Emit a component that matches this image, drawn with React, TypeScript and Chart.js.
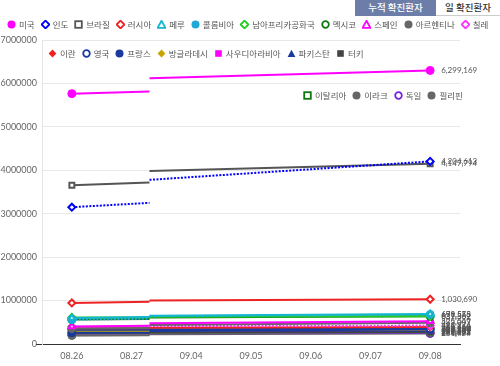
import React, { useEffect, useRef } from 'react';
import { Chart, registerables } from 'chart.js';
Chart.register(...registerables);

// ---- data ----
const dateLabels = ['08.26', '08.27', '09.04', '09.05', '09.06', '09.07', '09.08'];
const breakPos = 1.3; // where the series break between 08.27 and 09.04
const countries = ['미국', '인도', '브라질', '러시아', '페루', '콜롬비아', '남아프리카공화국', '멕시코', '스페인', '아르헨티나', '칠레',
  '이란', '영국', '프랑스', '방글라데시', '사우디아라비아', '파키스탄', '터키', '이탈리아', '이라크', '독일', '필리핀'];
const valuesStart = [5765000, 3150000, 3655000, 945000, 600000, 562000, 611000, 563000, 405000, 359000, 399000,
  361000, 327000, 259000, 300000, 310000, 293000, 260000, 261000, 204000, 237000, 197000];
const valuesBeforeBreak = [5815000, 3250000, 3720000, 975000, 621000, 582000, 616000, 574000, 420000, 370000, 402000,
  364000, 329000, 267000, 302000, 311000, 294000, 263000, 263000, 209000, 239000, 202000];
const valuesAfterBreak = [6120000, 3780000, 3985000, 1000000, 650000, 640000, 628000, 610000, 480000, 440000, 414000,
  376000, 340000, 300000, 315000, 318000, 297000, 272000, 272000, 245000, 248000, 225000];
const valuesEnd = [6299169, 4204613, 4147794, 1030690, 691575, 679513, 639362, 637509, 525549, 488007, 424274,
  388810, 350100, 335524, 327359, 322237, 299659, 281509, 280153, 271153, 254474, 241987];

// ---- styles ----
type Sty = { color: string; shape: string; filled: boolean; dash?: boolean };
const seriesStyles: Sty[] = [
  { color: '#ff00ff', shape: 'circle', filled: true },
  { color: '#0000ff', shape: 'rectRot', filled: false, dash: true },
  { color: '#555555', shape: 'rect', filled: false },
  { color: '#ee2222', shape: 'rectRot', filled: false },
  { color: '#12b6cf', shape: 'triangle', filled: false },
  { color: '#1ea8d8', shape: 'circle', filled: true, dash: true },
  { color: '#22cc22', shape: 'rectRot', filled: false },
  { color: '#117711', shape: 'circle', filled: false },
  { color: '#ff00ff', shape: 'triangle', filled: false },
  { color: '#666666', shape: 'circle', filled: true },
  { color: '#ff33ff', shape: 'rectRot', filled: false, dash: true },
  { color: '#ee2222', shape: 'rectRot', filled: true },
  { color: '#1a3a9e', shape: 'circle', filled: false },
  { color: '#1a3a9e', shape: 'circle', filled: true },
  { color: '#c9a400', shape: 'rectRot', filled: true },
  { color: '#ff00ff', shape: 'rect', filled: true },
  { color: '#1a3a9e', shape: 'triangle', filled: true, dash: true },
  { color: '#444444', shape: 'rect', filled: true },
  { color: '#117711', shape: 'rect', filled: false },
  { color: '#666666', shape: 'circle', filled: true },
  { color: '#7722dd', shape: 'circle', filled: false },
  { color: '#666666', shape: 'circle', filled: true },
];

const legendRows = [
  { left: 7, top: 24, items: [0, 1, 2, 3, 4, 5, 6, 7, 8, 9, 10] },
  { left: 48, top: 53, items: [11, 12, 13, 14, 15, 16, 17] },
  { left: 303, top: 95, items: [18, 19, 20, 21] },
];

function Marker({ s }: { s: Sty }) {
  const fill = s.filled ? s.color : '#fff';
  const sw = s.filled ? 0 : 1.8;
  let el: React.ReactNode;
  if (s.shape === 'circle') el = <circle cx={4.5} cy={4.5} r={s.filled ? 4 : 3.3} fill={fill} stroke={s.color} strokeWidth={sw} />;
  else if (s.shape === 'rect') el = <rect x={1.2} y={1.2} width={6.6} height={6.6} fill={fill} stroke={s.color} strokeWidth={sw} />;
  else if (s.shape === 'rectRot') el = <polygon points="4.5,0.6 8.4,4.5 4.5,8.4 0.6,4.5" fill={fill} stroke={s.color} strokeWidth={sw} />;
  else el = <polygon points="4.5,0.8 8.4,7.9 0.6,7.9" fill={fill} stroke={s.color} strokeWidth={sw} />;
  return <svg width={9} height={9} style={{ display: 'block', marginRight: 3, flex: 'none' }}>{el}</svg>;
}

export default function App() {
  const ref = useRef<HTMLCanvasElement>(null);
  useEffect(() => {
    document.body.style.margin = '0';
    const datasets = countries.map((name, i) => {
      const s = seriesStyles[i];
      return {
        label: name,
        data: [
          { x: 0, y: valuesStart[i] },
          { x: breakPos, y: valuesBeforeBreak[i] },
          { x: breakPos, y: null },
          { x: breakPos, y: valuesAfterBreak[i] },
          { x: dateLabels.length - 1, y: valuesEnd[i] },
        ],
        borderColor: s.color,
        borderWidth: 2,
        borderDash: s.dash ? [2, 1.5] : [],
        pointStyle: s.shape,
        pointBackgroundColor: s.filled ? s.color : '#ffffff',
        pointBorderColor: s.color,
        pointBorderWidth: s.filled ? 1 : 2,
        pointRadius: (c: any) => (c.dataIndex === 0 || c.dataIndex === 4 ? (s.filled ? 4 : 3.5) : 0),
        tension: 0,
        spanGaps: false,
      };
    });
    const endLabels = {
      id: 'endLabels',
      afterDatasetsDraw(chart: any) {
        const ctx = chart.ctx;
        ctx.save();
        ctx.font = '8px Lato, sans-serif';
        ctx.fillStyle = '#555';
        ctx.textBaseline = 'middle';
        ctx.textAlign = 'left';
        chart.data.datasets.forEach((ds: any, i: number) => {
          const meta = chart.getDatasetMeta(i);
          const pt = meta.data[4];
          if (!pt) return;
          ctx.fillText(valuesEnd[i].toLocaleString('en-US'), pt.x + 11, pt.y);
        });
        const a = chart.chartArea;
        ctx.strokeStyle = '#333';
        ctx.lineWidth = 1;
        ctx.beginPath();
        ctx.moveTo(a.left - 6, Math.round(a.bottom) + 0.5);
        ctx.lineTo(a.left, Math.round(a.bottom) + 0.5);
        ctx.stroke();
        ctx.restore();
      },
    };
    const chart = new Chart(ref.current!, {
      type: 'line',
      data: { datasets: datasets as any },
      options: {
        responsive: false,
        animation: false,
        layout: { padding: { top: 40, right: 40, left: 0, bottom: 0 } },
        plugins: { legend: { display: false }, tooltip: { enabled: false } },
        scales: {
          x: {
            type: 'linear',
            min: -0.5,
            max: dateLabels.length - 0.5,
            afterBuildTicks: (s: any) => { s.ticks = dateLabels.map((_, i) => ({ value: i })); },
            afterFit: (s: any) => { s.height = 22; },
            ticks: {
              callback: (v: any) => dateLabels[v] ?? '',
              font: { family: 'Lato', size: 9 },
              color: '#666',
              padding: 7,
              autoSkip: false,
              maxRotation: 0,
            },
            grid: { display: false, drawTicks: false },
            border: { color: '#333', width: 1 },
          },
          y: {
            min: 0,
            max: 7000000,
            afterFit: (s: any) => { s.width = 42; },
            ticks: {
              stepSize: 1000000,
              callback: (v: any) => String(v),
              font: { family: 'Lato', size: 9 },
              color: '#666',
              padding: 5,
            },
            grid: { color: '#e8e8e8', drawTicks: false },
            border: { color: '#e4e4e4' },
          },
        },
      } as any,
      plugins: [endLabels],
    });
    return () => chart.destroy();
  }, []);

  return (
    <div style={{ position: 'relative', width: 500, height: 366, background: '#fff', overflow: 'hidden', fontFamily: "'Noto Sans CJK KR', sans-serif" }}>
      <canvas ref={ref} width={500} height={366} style={{ position: 'absolute', left: 0, top: 0 }} />
      {legendRows.map((row, r) => (
        <div key={r} style={{ position: 'absolute', left: row.left, top: row.top - 7, height: 14, display: 'flex', alignItems: 'center', whiteSpace: 'nowrap' }}>
          {row.items.map((i) => (
            <div key={i} style={{ display: 'flex', alignItems: 'center', marginRight: 6 }}>
              <Marker s={seriesStyles[i]} />
              <span style={{ fontSize: 8.5, color: '#555', lineHeight: '14px' }}>{countries[i]}</span>
            </div>
          ))}
        </div>
      ))}
      <div style={{ position: 'absolute', left: 355, top: 0, width: 81, height: 16, background: '#6c7ea8', color: '#fff', fontSize: 9.5, fontWeight: 500, lineHeight: '14px', textAlign: 'center' }}>누적 확진환자</div>
      <div style={{ position: 'absolute', left: 436, top: 0, width: 64, height: 15, background: '#fff', borderBottom: '1px solid #ccc', color: '#333', fontSize: 9.5, fontWeight: 500, lineHeight: '14px', textAlign: 'center' }}>일 확진환자</div>
    </div>
  );
}
